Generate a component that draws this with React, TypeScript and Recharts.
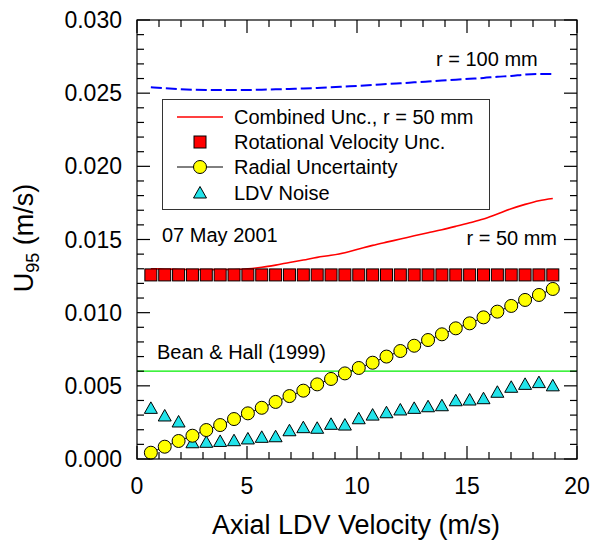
import React from "react"
import { ComposedChart, Line, XAxis, YAxis, ReferenceLine } from "recharts"

const FONT = '"Liberation Sans", Arial, sans-serif'

// plot box in pixels (chart margins + axis sizes below)
const PLOT_L = 137
const PLOT_T = 20
const PLOT_W = 440
const PLOT_H = 439

// axial LDV velocity (m/s) at each measurement
const velocity = [
  0.63, 1.26, 1.89, 2.52, 3.15, 3.78, 4.41, 5.04, 5.67, 6.3, 6.93, 7.56, 8.19, 8.82, 9.45,
  10.08, 10.71, 11.34, 11.97, 12.6, 13.23, 13.86, 14.49, 15.12, 15.75, 16.38, 17.01, 17.64, 18.27, 18.9,
]
const combined50 = [
  0.013, 0.01298, 0.01296, 0.01295, 0.01294, 0.01294, 0.01295, 0.013, 0.0131, 0.01325, 0.01343, 0.0136,
  0.01378, 0.01392, 0.0141, 0.01435, 0.0146, 0.01482, 0.01503, 0.01525, 0.01546, 0.01567, 0.0159, 0.01614,
  0.0164, 0.01675, 0.0171, 0.0174, 0.01765, 0.0178,
]
const combined100 = [
  0.0254, 0.02534, 0.02528, 0.02524, 0.02522, 0.02521, 0.02521, 0.02522, 0.02524, 0.02526, 0.02529, 0.02532,
  0.02536, 0.0254, 0.02545, 0.0255, 0.02556, 0.02562, 0.02568, 0.02574, 0.0258, 0.02586, 0.02592, 0.02598,
  0.02604, 0.02612, 0.02618, 0.02627, 0.02631, 0.0263,
]
const rotational = [
  0.01258, 0.01258, 0.01258, 0.01258, 0.01258, 0.01258, 0.01258, 0.01258, 0.01258, 0.01258, 0.01258, 0.01258,
  0.01258, 0.01258, 0.01258, 0.01258, 0.01258, 0.01258, 0.01258, 0.01258, 0.01258, 0.01258, 0.01258, 0.01258,
  0.01258, 0.01258, 0.01258, 0.01258, 0.01258, 0.01258,
]
const radial = [
  0.00043, 0.00084, 0.00123, 0.00159, 0.00198, 0.00232, 0.00273, 0.00312, 0.0035, 0.0039, 0.0043, 0.00467,
  0.0051, 0.00547, 0.00585, 0.00622, 0.00658, 0.007, 0.00738, 0.00774, 0.00813, 0.00852, 0.00893, 0.00927,
  0.00968, 0.01007, 0.01046, 0.01087, 0.01121, 0.01162,
]
const ldvNoise = [
  0.00346, 0.00294, 0.00253, 0.00111, 0.00114, 0.0012, 0.00125, 0.00137, 0.00148, 0.00152, 0.00193, 0.00214,
  0.0021, 0.00237, 0.00232, 0.00275, 0.003, 0.00316, 0.00335, 0.00346, 0.00357, 0.00364, 0.00398, 0.00403,
  0.00412, 0.00456, 0.0049, 0.0051, 0.00522, 0.005,
]
const beanHall = 0.006

const X_MAX = 20
const Y_MAX = 0.03
const xTicks = [0, 1, 2, 3, 4, 5, 6, 7, 8, 9, 10, 11, 12, 13, 14, 15, 16, 17, 18, 19, 20]
const yTicks = [
  0, 0.001, 0.002, 0.003, 0.004, 0.005, 0.006, 0.007, 0.008, 0.009, 0.01, 0.011, 0.012, 0.013, 0.014, 0.015,
  0.016, 0.017, 0.018, 0.019, 0.02, 0.021, 0.022, 0.023, 0.024, 0.025, 0.026, 0.027, 0.028, 0.029, 0.03,
]

const rows = velocity.map((x, i) => ({
  x,
  combined50: combined50[i],
  combined100: combined100[i],
  rotational: rotational[i],
  radial: radial[i],
  ldvNoise: ldvNoise[i],
}))

const isMajorX = (v: number) => v % 5 === 0
const isMajorY = (v: number) => Math.round(v * 1000) % 5 === 0

const CYAN = "#22E3EA"

// tick labels come from the recharts axes
const BottomTick = (p: any) => {
  const v = p.payload.value
  if (!isMajorX(v)) return <g />
  return (
    <text x={p.x} y={p.y + 35} textAnchor="middle" fontSize={23} fontFamily={FONT} fill="#000">
      {v}
    </text>
  )
}
const LeftTick = (p: any) => {
  const v = p.payload.value
  if (!isMajorY(v)) return <g />
  return (
    <text x={p.x - 15} y={p.y + 8} textAnchor="end" fontSize={23} fontFamily={FONT} fill="#000">
      {v.toFixed(3)}
    </text>
  )
}

const SquareDot = (p: any) => (
  <rect
    key={`sq-${p.index}`}
    x={p.cx - 6}
    y={p.cy - 6}
    width={12}
    height={12}
    fill="#FF0000"
    stroke="#000"
    strokeWidth={1}
  />
)
const TriangleDot = (p: any) => (
  <polygon
    key={`tri-${p.index}`}
    points={`${p.cx},${p.cy - 6.5} ${p.cx - 6.5},${p.cy + 5} ${p.cx + 6.5},${p.cy + 5}`}
    fill={CYAN}
    stroke="#000"
    strokeWidth={1}
  />
)

// frame with inward ticks on all four sides, laid over the chart
const Frame = () => {
  const px = (v: number) => PLOT_L + (v / X_MAX) * PLOT_W
  const py = (v: number) => PLOT_T + PLOT_H - (v / Y_MAX) * PLOT_H
  const bottom = PLOT_T + PLOT_H
  const right = PLOT_L + PLOT_W
  return (
    <g stroke="#000" strokeWidth={1.2} fill="none">
      <rect x={PLOT_L} y={PLOT_T} width={PLOT_W} height={PLOT_H} />
      {xTicks.map((v) => {
        const len = isMajorX(v) ? 13 : 7
        const x = px(v)
        return (
          <g key={`xt-${v}`}>
            <line x1={x} y1={bottom} x2={x} y2={bottom - len} />
            <line x1={x} y1={PLOT_T} x2={x} y2={PLOT_T + len} />
          </g>
        )
      })}
      {yTicks.map((v) => {
        const len = isMajorY(v) ? 13 : 7
        const y = py(v)
        return (
          <g key={`yt-${v}`}>
            <line x1={PLOT_L} y1={y} x2={PLOT_L + len} y2={y} />
            <line x1={right} y1={y} x2={right - len} y2={y} />
          </g>
        )
      })}
    </g>
  )
}

const legendRows = [
  { label: "Combined Unc., r = 50 mm", kind: "line" },
  { label: "Rotational Velocity Unc.", kind: "square" },
  { label: "Radial Uncertainty", kind: "circle" },
  { label: "LDV Noise", kind: "triangle" },
]

const LegendSymbol = ({ kind }: { kind: string }) => (
  <svg width={46} height={24} style={{ position: "absolute", left: 14, top: 0 }}>
    {kind === "line" && <line x1={0} y1={12} x2={46} y2={12} stroke="#FF0000" strokeWidth={1.5} />}
    {kind === "square" && <rect x={17} y={6} width={12} height={12} fill="#FF0000" stroke="#000" />}
    {kind === "circle" && (
      <g>
        <line x1={0} y1={12} x2={46} y2={12} stroke="#000" />
        <circle cx={23} cy={12} r={6.5} fill="#FFFF00" stroke="#000" />
      </g>
    )}
    {kind === "triangle" && <polygon points="23,5.5 16.5,17 29.5,17" fill={CYAN} stroke="#000" />}
  </svg>
)

const LegendBox = () => (
  <div
    style={{
      position: "absolute",
      left: 162,
      top: 99,
      width: 328,
      height: 111,
      border: "1px solid #333",
      boxSizing: "border-box",
      background: "#fff",
      fontFamily: FONT,
      fontSize: 20,
      color: "#000",
    }}
  >
    {legendRows.map((r, i) => (
      <div key={r.label} style={{ position: "absolute", left: 0, top: 5 + i * 25.2, height: 24, width: "100%" }}>
        <LegendSymbol kind={r.kind} />
        <span style={{ position: "absolute", left: 71, top: 0, lineHeight: "24px", whiteSpace: "nowrap" }}>
          {r.label}
        </span>
      </div>
    ))}
  </div>
)

export default function App() {
  return (
    <div style={{ position: "absolute", left: 0, top: 0, width: 593, height: 542, background: "#fff" }}>
      <LegendBox />
      <ComposedChart
        width={593}
        height={542}
        data={rows}
        margin={{ top: 20, right: 16, bottom: 43, left: 77 }}
      >
        <XAxis
          dataKey="x"
          type="number"
          domain={[0, X_MAX]}
          ticks={xTicks}
          interval={0}
          height={40}
          tickSize={0}
          tickMargin={0}
          tickLine={false}
          tick={BottomTick}
          axisLine={false}
        />
        <YAxis
          type="number"
          domain={[0, Y_MAX]}
          ticks={yTicks}
          interval={0}
          width={60}
          tickSize={0}
          tickMargin={0}
          tickLine={false}
          tick={LeftTick}
          axisLine={false}
        />
        <ReferenceLine y={beanHall} stroke="#00EE00" strokeWidth={1.2} />
        <Line
          type="monotone"
          dataKey="combined100"
          stroke="#0000FF"
          strokeWidth={2}
          strokeDasharray="11 4"
          dot={false}
          activeDot={false}
          isAnimationActive={false}
        />
        <Line
          type="monotone"
          dataKey="combined50"
          stroke="#FF0000"
          strokeWidth={1.6}
          dot={false}
          activeDot={false}
          isAnimationActive={false}
        />
        <Line dataKey="rotational" stroke="none" dot={SquareDot} activeDot={false} isAnimationActive={false} />
        <Line dataKey="ldvNoise" stroke="none" dot={TriangleDot} activeDot={false} isAnimationActive={false} />
        <Line
          type="linear"
          dataKey="radial"
          stroke="#000"
          strokeWidth={1}
          dot={{ r: 6.5, fill: "#FFFF00", stroke: "#000", strokeWidth: 1 }}
          activeDot={false}
          isAnimationActive={false}
        />
      </ComposedChart>
      <svg
        width={593}
        height={542}
        style={{ position: "absolute", left: 0, top: 0, pointerEvents: "none" }}
        fontFamily={FONT}
      >
        <Frame />
        <g fill="#000">
          <text x={436} y={66} fontSize={20}>r = 100 mm</text>
          <text x={557} y={245} fontSize={20} textAnchor="end">r = 50 mm</text>
          <text x={162} y={242} fontSize={20}>07 May 2001</text>
          <text x={157} y={359} fontSize={20}>Bean &amp; Hall (1999)</text>
          <text x={356} y={534} fontSize={27} textAnchor="middle">Axial LDV Velocity (m/s)</text>
          <text x={33} y={238} fontSize={27} textAnchor="middle" transform="rotate(-90 33 238)">
            U<tspan fontSize={18} dy={6}>95</tspan>
            <tspan dy={-6}> (m/s)</tspan>
          </text>
        </g>
      </svg>
    </div>
  )
}
